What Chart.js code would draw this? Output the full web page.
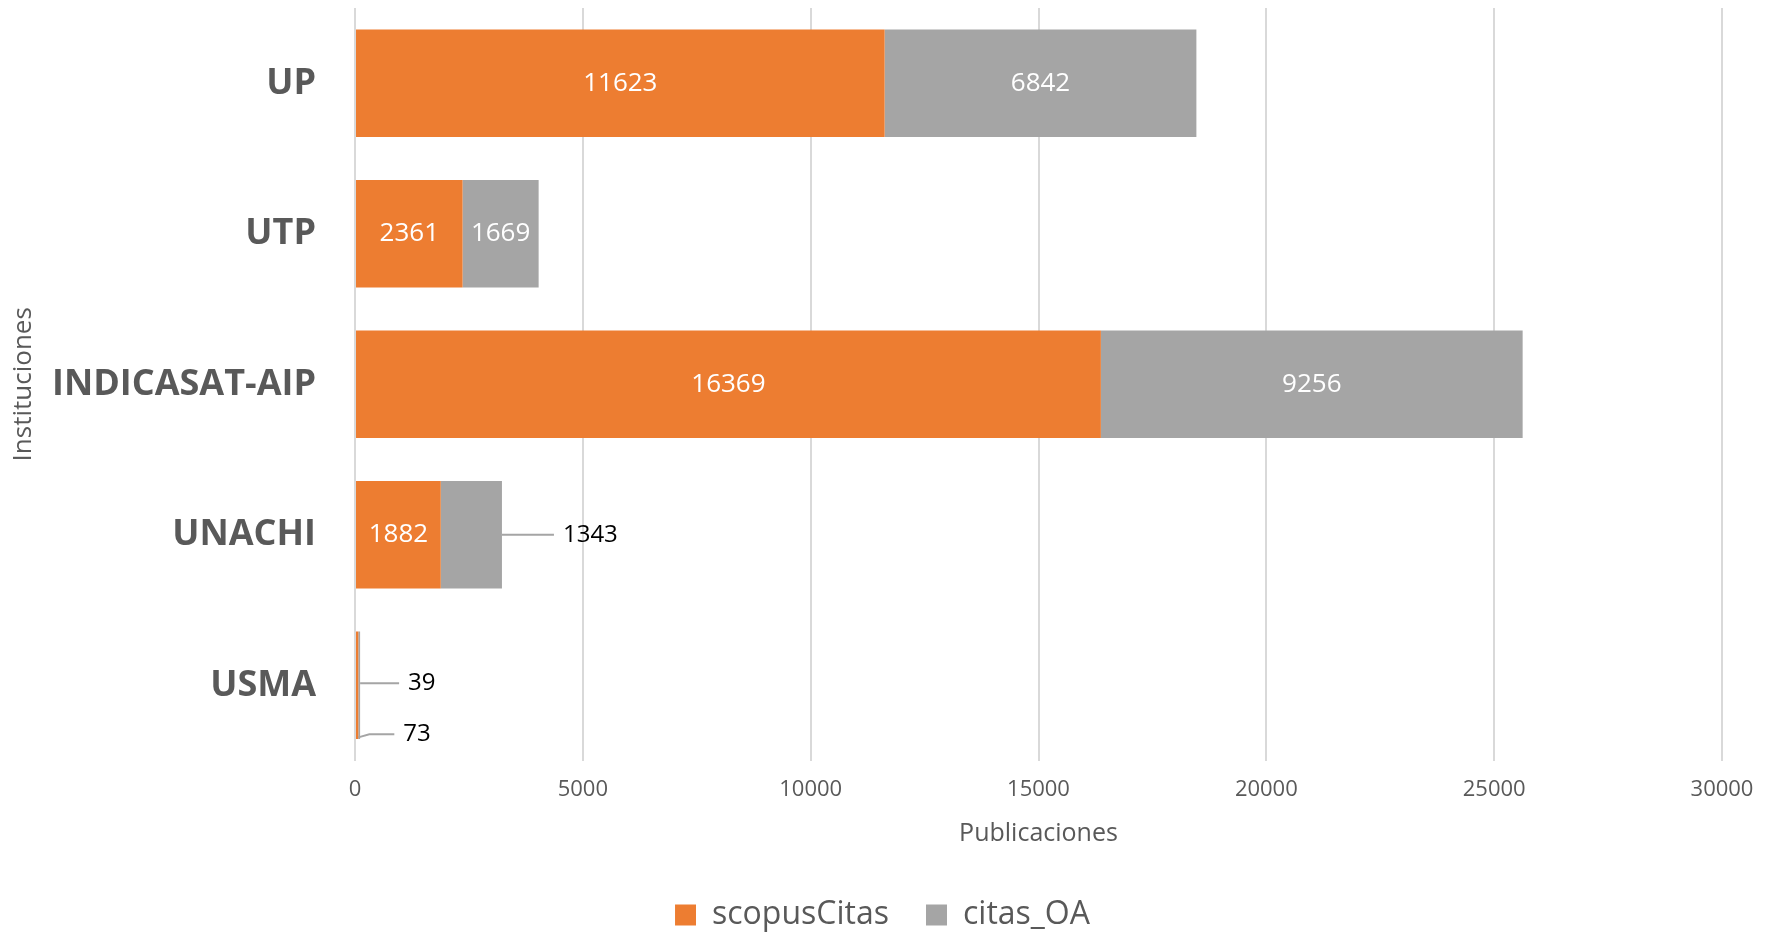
<!DOCTYPE html>
<html>
<head>
<meta charset="utf-8">
<script src="https://cdn.jsdelivr.net/npm/chart.js@4.4.0/dist/chart.umd.min.js"></script>
<style>
  html, body { margin: 0; padding: 0; background: #fff; }
  #wrap { width: 1765px; height: 932px; }
</style>
</head>
<body>
<div id="wrap"><canvas id="chart" width="1765" height="932"></canvas></div>
<script>
// data
const institutions = ['UP', 'UTP', 'INDICASAT-AIP', 'UNACHI', 'USMA'];
const scopusCitas = [11623, 2361, 16369, 1882, 73];
const citasOA = [6842, 1669, 9256, 1343, 39];
const xMin = 0;
const xMax = 30000;
const xStep = 5000;

const ORANGE = '#ED7D31';
const GRAY = '#A5A5A5';
const TEXT = '#595959';
const FONT = "'Open Sans', sans-serif";

// labels that sit outside their bar with a leader line (dataset index - data index)
const callouts = {
    '1-3': { dy: 0, bendX: 0, bendY: 0, len: 52 },
    '1-4': { dy: -2, bendX: 0, bendY: 0, len: 39 },
    '0-4': { dy: 52, bendX: 11, bendY: -3, len: 25 }
};

const valueLabels = {
    id: 'valueLabels',
    afterDatasetsDraw(chart) {
        const ctx = chart.ctx;
        ctx.save();
        ctx.textBaseline = 'middle';
        chart.data.datasets.forEach((ds, di) => {
            const meta = chart.getDatasetMeta(di);
            meta.data.forEach((bar, i) => {
                const value = ds.data[i];
                const c = callouts[di + '-' + i];
                if (c) {
                    const x0 = bar.x;
                    const y0 = bar.y + c.dy;
                    const x1 = x0 + c.bendX;
                    const y1 = y0 + c.bendY;
                    const x2 = x1 + c.len;
                    ctx.strokeStyle = GRAY;
                    ctx.lineWidth = 2;
                    ctx.beginPath();
                    ctx.moveTo(x0, y0);
                    ctx.lineTo(x1, y1);
                    ctx.lineTo(x2, y1);
                    ctx.stroke();
                    ctx.font = '24px ' + FONT;
                    ctx.fillStyle = '#000';
                    ctx.textAlign = 'left';
                    ctx.fillText(value, x2 + 9, y1);
                } else {
                    ctx.font = '26px ' + FONT;
                    ctx.fillStyle = '#fff';
                    ctx.textAlign = 'center';
                    ctx.fillText(value, (bar.x + bar.base) / 2, bar.y);
                }
            });
        });
        ctx.restore();
    }
};

const ctx = document.getElementById('chart').getContext('2d');
const chart = new Chart(ctx, {
    type: 'bar',
    data: {
        labels: institutions,
        datasets: [
            {
                label: 'scopusCitas',
                data: scopusCitas,
                backgroundColor: ORANGE,
                barPercentage: 0.714,
                categoryPercentage: 1
            },
            {
                label: 'citas_OA',
                data: citasOA,
                backgroundColor: GRAY,
                barPercentage: 0.714,
                categoryPercentage: 1
            }
        ]
    },
    options: {
        indexAxis: 'y',
        responsive: false,
        animation: false,
        layout: {
            padding: { top: 8, right: 0, left: 0, bottom: -9 }
        },
        scales: {
            x: {
                stacked: true,
                min: xMin,
                max: xMax,
                ticks: {
                    stepSize: xStep,
                    color: TEXT,
                    padding: 16,
                    font: { family: FONT, size: 22 },
                    callback: (v) => String(v)
                },
                grid: {
                    color: '#D9D9D9',
                    lineWidth: 2,
                    drawTicks: false
                },
                border: { display: false },
                title: {
                    display: true,
                    text: 'Publicaciones',
                    color: TEXT,
                    font: { family: FONT, size: 25 },
                    padding: { top: 0, bottom: 13 }
                },
                afterFit(scale) {
                    scale.paddingRight = 43;
                }
            },
            y: {
                stacked: true,
                ticks: {
                    color: TEXT,
                    padding: 39,
                    font: { family: FONT, size: 36, weight: 'bold' }
                },
                grid: { display: false, drawTicks: false },
                border: { display: false },
                title: {
                    display: true,
                    text: 'Instituciones',
                    color: TEXT,
                    font: { family: FONT, size: 26 },
                    padding: { top: 8, bottom: 0 }
                },
                afterFit(scale) {
                    scale.width = 355;
                    scale.paddingTop = 0;
                    scale.paddingBottom = 0;
                }
            }
        },
        plugins: {
            legend: {
                position: 'bottom',
                labels: {
                    color: TEXT,
                    boxWidth: 21,
                    boxHeight: 21,
                    padding: 37,
                    font: { family: FONT, size: 32 }
                }
            },
            tooltip: { enabled: false }
        }
    },
    plugins: [valueLabels]
});
</script>
</body>
</html>
